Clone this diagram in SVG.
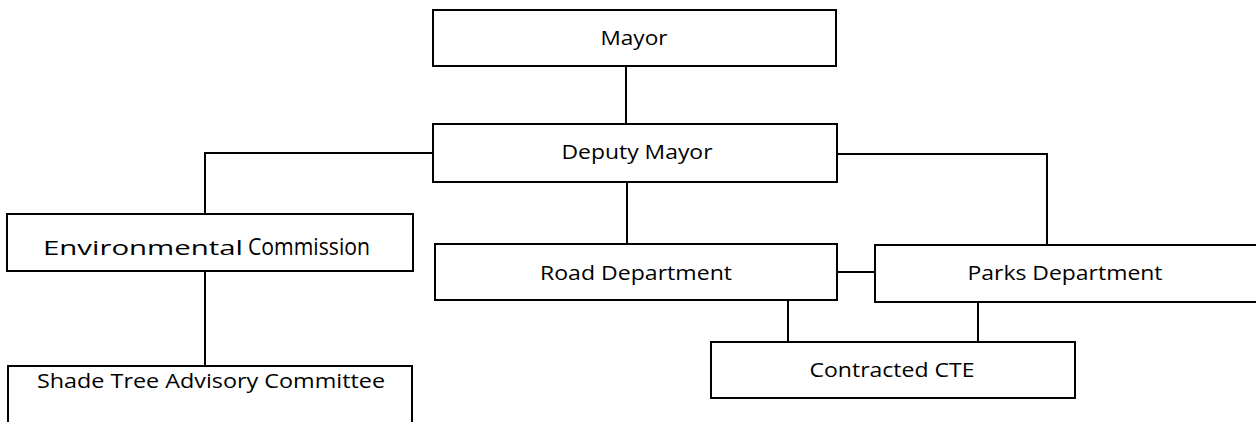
<svg xmlns="http://www.w3.org/2000/svg" width="1256" height="422" viewBox="0 0 1256 422">
<style>
rect{fill:#fff;stroke:#000;stroke-width:2}
.c line{stroke:#000;stroke-width:2}
text{font-family:"Open Sans","Liberation Sans",sans-serif;font-size:19.5px;fill:#000;text-anchor:middle}
</style>
<rect x="0" y="0" width="1256" height="422" style="stroke:none"/>
<g class="c" id="connectors">
<line x1="626" y1="66" x2="626" y2="124"/>
<line x1="433" y1="153" x2="205" y2="153"/>
<line x1="205" y1="152" x2="205" y2="214"/>
<line x1="205" y1="271" x2="205" y2="366"/>
<line x1="837" y1="154" x2="1047" y2="154"/>
<line x1="1047" y1="153" x2="1047" y2="245"/>
<line x1="627" y1="182" x2="627" y2="244"/>
<line x1="837" y1="272" x2="875" y2="272"/>
<line x1="788" y1="300" x2="788" y2="342"/>
<line x1="978" y1="302" x2="978" y2="342"/>
</g>
<g id="mayor"><rect x="433" y="10" width="403" height="56"/><text x="634" y="45" textLength="67" lengthAdjust="spacingAndGlyphs">Mayor</text></g>
<g id="deputy"><rect x="433" y="124" width="404" height="58"/><text x="637" y="159" textLength="151" lengthAdjust="spacingAndGlyphs">Deputy Mayor</text></g>
<g id="env"><rect x="7" y="214" width="406" height="57"/><text x="43" y="255" style="text-anchor:start"><tspan font-size="20" textLength="200" lengthAdjust="spacingAndGlyphs">Environmental</tspan><tspan x="248" font-size="24" textLength="122" lengthAdjust="spacingAndGlyphs">Commission</tspan></text></g>
<g id="shade"><rect x="8" y="366" width="404" height="70"/><text x="211" y="388" textLength="348" lengthAdjust="spacingAndGlyphs">Shade Tree Advisory Committee</text></g>
<g id="road"><rect x="435" y="244" width="402" height="56"/><text x="636" y="280" textLength="192" lengthAdjust="spacingAndGlyphs">Road Department</text></g>
<g id="parks"><rect x="875" y="245" width="390" height="57"/><text x="1065" y="280" textLength="195" lengthAdjust="spacingAndGlyphs">Parks Department</text></g>
<g id="cte"><rect x="711" y="342" width="364" height="56"/><text x="892" y="377" textLength="165" lengthAdjust="spacingAndGlyphs">Contracted CTE</text></g>
</svg>
